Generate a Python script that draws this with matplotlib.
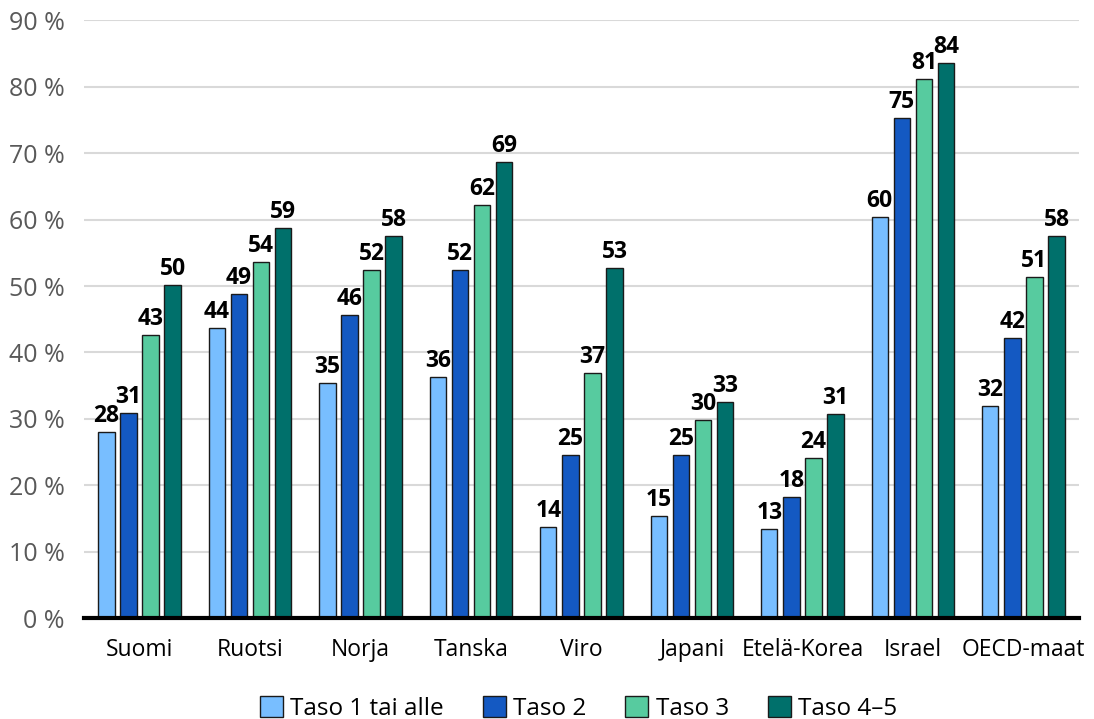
import numpy as np
import matplotlib.pyplot as plt
from matplotlib.ticker import FuncFormatter

# Maat ja osuudet (%) taitotason mukaan
countries = ["Suomi", "Ruotsi", "Norja", "Tanska", "Viro", "Japani",
             "Etelä-Korea", "Israel", "OECD-maat"]
series_names = ["Taso 1 tai alle", "Taso 2", "Taso 3", "Taso 4–5"]
taso1 = [28.0, 43.7, 35.4, 36.3, 13.7, 15.4, 13.4, 60.4, 31.9]
taso2 = [30.9, 48.8, 45.6, 52.4, 24.6, 24.6, 18.2, 75.3, 42.2]
taso3 = [42.6, 53.6, 52.4, 62.2, 36.9, 29.8, 24.1, 81.2, 51.4]
taso45 = [50.1, 58.7, 57.5, 68.6, 52.7, 32.6, 30.7, 83.6, 57.5]
colors = ["#78BEFF", "#1459C2", "#57CB9F", "#00706B"]

plt.rcParams['font.family'] = ['Open Sans', 'DejaVu Sans']

fig = plt.figure(figsize=(10.94, 7.19), dpi=100)
ax = fig.add_axes([0.077, 0.14, 0.909, 0.832])

x = np.arange(len(countries))
pitch = 0.2
width = 0.148
all_series = [taso1, taso2, taso3, taso45]
for i, (vals, name, col) in enumerate(zip(all_series, series_names, colors)):
    pos = x + (i - 1.5) * pitch
    bars = ax.bar(pos, vals, width, color=col, edgecolor="#1a1a1a",
                  linewidth=1.0, label=name, zorder=3)
    for b, v in zip(bars, vals):
        ax.text(b.get_x() + b.get_width() / 2, v + 1.5, f"{v:.0f}",
                ha="center", va="baseline", fontsize=16.5, fontweight="bold",
                color="black", zorder=4)

ax.set_xlim(-0.5, len(countries) - 0.5)
ax.set_ylim(0, 90)
ax.set_yticks(range(0, 91, 10))
ax.yaxis.set_major_formatter(FuncFormatter(lambda v, p: f"{v:.0f} %"))
ax.set_xticks(x)
ax.set_xticklabels(countries)
ax.tick_params(axis="y", length=0, labelsize=18, labelcolor="#595959", pad=14)
ax.tick_params(axis="x", length=0, labelsize=16.5, labelcolor="black", pad=14)
ax.grid(axis="y", color="#d9d9d9", linewidth=1.5, zorder=0)
for s in ["top", "right", "left"]:
    ax.spines[s].set_visible(False)
ax.spines["bottom"].set_linewidth(3)
ax.spines["bottom"].set_zorder(5)

ax.legend(loc="upper center", bbox_to_anchor=(0.497, -0.093), ncol=4,
          frameon=False, fontsize=17.5, handlelength=0.95, handleheight=0.95,
          handletextpad=0.3, columnspacing=1.6)

fig.savefig("out.png", dpi=100)
